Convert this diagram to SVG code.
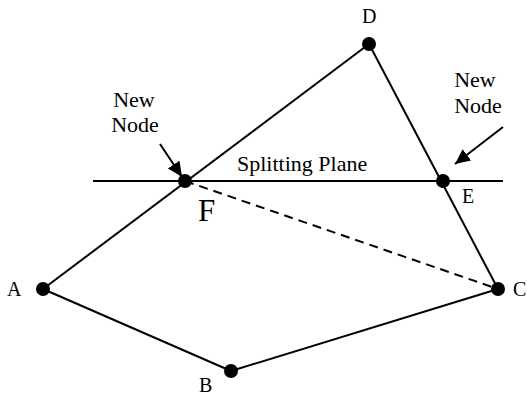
<svg xmlns="http://www.w3.org/2000/svg" width="527" height="396" viewBox="0 0 527 396">
<style>
.edge{stroke:#000;stroke-width:2;fill:none}
.dash{stroke-dasharray:9 6}
.dot{fill:#000}
.lbl{font-family:"Liberation Serif","Times New Roman",serif;font-size:20px;fill:#000}
.mid{font-size:22px}
.big{font-size:31px}
</style>
<defs>
<marker id="arr" markerUnits="userSpaceOnUse" markerWidth="16" markerHeight="14" refX="15" refY="7" orient="auto">
<path d="M0,0 L15,7 L0,14 Z" fill="#000"/>
</marker>
</defs>
<rect width="527" height="396" fill="#fff"/>
<g id="connectors">
<line class="edge" x1="93" y1="181" x2="503" y2="181"/>
<line class="edge" x1="43" y1="289" x2="369" y2="44"/>
<line class="edge" x1="369" y1="44" x2="498" y2="289"/>
<line class="edge" x1="43" y1="289" x2="231" y2="371"/>
<line class="edge" x1="231" y1="371" x2="498" y2="289"/>
<line class="edge dash" x1="185" y1="181" x2="498" y2="289"/>
<line class="edge" x1="160" y1="144" x2="182" y2="177" marker-end="url(#arr)"/>
<line class="edge" x1="503" y1="127" x2="455" y2="164" marker-end="url(#arr)"/>
</g>
<g id="node-A"><circle class="dot" cx="43" cy="289" r="7"/><text class="lbl" x="7" y="296">A</text></g>
<g id="node-B"><circle class="dot" cx="231" cy="371" r="7"/><text class="lbl" x="199" y="392">B</text></g>
<g id="node-C"><circle class="dot" cx="498" cy="289" r="7"/><text class="lbl" x="513" y="296">C</text></g>
<g id="node-D"><circle class="dot" cx="369" cy="44" r="7"/><text class="lbl" x="362" y="23">D</text></g>
<g id="node-E"><circle class="dot" cx="443" cy="181" r="7"/><text class="lbl" x="462" y="203">E</text></g>
<g id="node-F"><circle class="dot" cx="185" cy="181" r="7"/><text class="lbl big" x="198" y="221">F</text></g>
<g id="label-newnode-left"><text class="lbl mid" text-anchor="middle" x="134" y="107">New</text><text class="lbl mid" text-anchor="middle" x="135" y="132">Node</text></g>
<g id="label-newnode-right"><text class="lbl mid" text-anchor="middle" x="475" y="87">New</text><text class="lbl mid" text-anchor="middle" x="478" y="113">Node</text></g>
<g id="label-plane"><text class="lbl mid" x="237" y="171">Splitting Plane</text></g>
</svg>
